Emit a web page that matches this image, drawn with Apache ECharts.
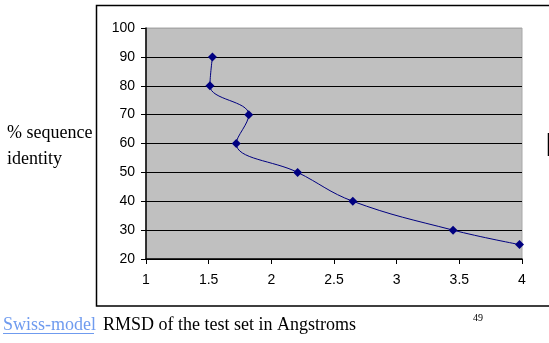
<!DOCTYPE html>
<html>
<head>
<meta charset="utf-8">
<script src="https://cdn.jsdelivr.net/npm/echarts@6/dist/echarts.min.js"></script>
<style>html,body{margin:0;padding:0;background:#fff;}#c{width:549px;height:343px;}</style>
</head>
<body>
<div id="c"></div>
<script>
const rmsd = [1.53, 1.51, 1.82, 1.72, 2.21, 2.65, 3.45, 3.98];
const identity = [90, 80, 70, 60, 50, 40, 30, 25];
const yLabel = ['% sequence', 'identity'];
const xLabel = 'RMSD of the test set in Angstroms';
const linkText = 'Swiss-model';
const pageNum = '49';

const chart = echarts.init(document.getElementById('c'), null, {renderer: 'canvas'});
const pts = rmsd.map((x, i) => [x, identity[i]]);
const gridColors = ['#000','#000','#000','#000','#000','#000','#000','#000','#a8a8a8'];
chart.setOption({
  animation: false,
  backgroundColor: '#fff',
  grid: {left: 146, right: 27, top: 28, bottom: 84, show: true, backgroundColor: '#c0c0c0', borderColor: '#a8a8a8', borderWidth: 1},
  xAxis: {
    type: 'value', min: 1, max: 4, interval: 0.5,
    axisLine: {show: true, onZero: false, lineStyle: {color: '#000', width: 1.5}},
    axisTick: {show: true, length: 5, lineStyle: {color: '#000'}},
    axisLabel: {color: '#000', fontFamily: 'Liberation Sans', fontSize: 14, margin: 14},
    splitLine: {show: false}
  },
  yAxis: {
    type: 'value', min: 20, max: 100, interval: 10,
    axisLine: {show: true, lineStyle: {color: '#000', width: 1.5}},
    axisTick: {show: true, length: 5, lineStyle: {color: '#000'}},
    axisLabel: {color: '#000', fontFamily: 'Liberation Sans', fontSize: 14, margin: 11},
    splitLine: {show: true, lineStyle: {color: gridColors, width: 1}}
  },
  series: [{
    type: 'line', data: pts, smooth: 0.4,
    symbol: 'diamond', symbolSize: 9,
    lineStyle: {color: '#000080', width: 1},
    itemStyle: {color: '#000080'}
  }],
  graphic: [
    {type: 'rect', shape: {x: 96.5, y: 5.5, width: 470, height: 300.5}, style: {fill: 'none', stroke: '#000', lineWidth: 1.5}, z: -1},
    {type: 'line', shape: {x1: 548.5, y1: 133, x2: 548.5, y2: 156}, style: {stroke: '#000', lineWidth: 1.5}},
    {type: 'text', left: 7, top: 124, style: {text: yLabel[0], font: '18px "Liberation Serif"', fill: '#000'}},
    {type: 'text', left: 7, top: 150, style: {text: yLabel[1], font: '18px "Liberation Serif"', fill: '#000'}},
    {type: 'text', left: 3, top: 316, style: {text: linkText, font: '18px "Liberation Serif"', fill: '#6f9bef'}},
    {type: 'line', shape: {x1: 3, y1: 333.5, x2: 94, y2: 333.5}, style: {stroke: '#6f9bef', lineWidth: 1}},
    {type: 'text', left: 103, top: 316, style: {text: xLabel, font: '18px "Liberation Serif"', fill: '#000'}},
    {type: 'text', left: 473, top: 313, style: {text: pageNum, font: '10px "Liberation Serif"', fill: '#000'}}
  ]
});
</script>
</body>
</html>
